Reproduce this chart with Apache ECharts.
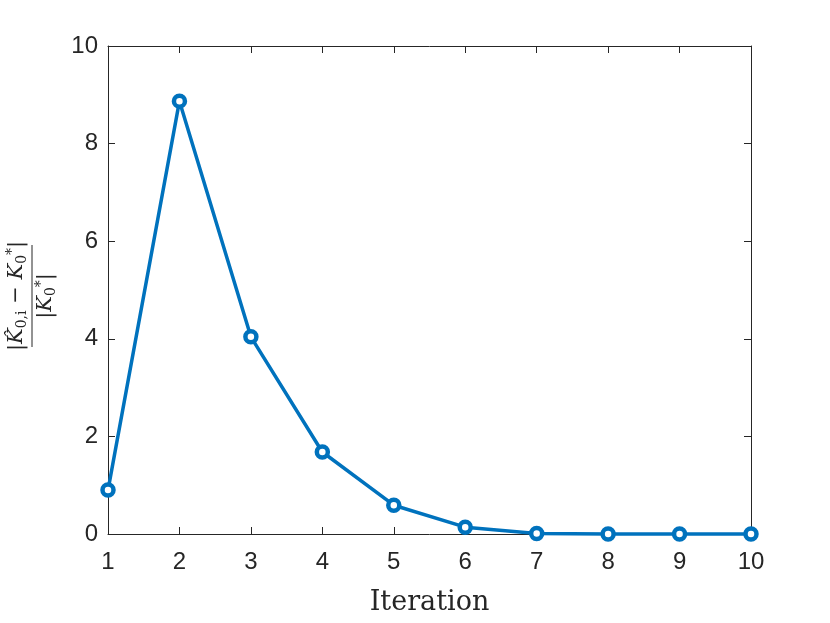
<!DOCTYPE html>
<html><head><meta charset="utf-8">
<script src="https://cdn.jsdelivr.net/npm/echarts@6/dist/echarts.min.js"></script>
<style>html,body{margin:0;padding:0;background:#fff}#c{width:830px;height:623px}</style>
</head><body><div id="c"></div>
<script>
const iterations = [1, 2, 3, 4, 5, 6, 7, 8, 9, 10];
const errors = [0.90, 8.87, 4.04, 1.68, 0.59, 0.14, 0.01, 0.0, 0.0, 0.0];
const xTicks = [1, 2, 3, 4, 5, 6, 7, 8, 9, 10];
const yTicks = [0, 2, 4, 6, 8, 10];
const xLabel = 'Iteration';

const axisColor = '#262626';
const chart = echarts.init(document.getElementById('c'));
const tickFont = {color: axisColor, fontSize: 24, fontFamily: 'Liberation Sans, Arial, sans-serif'};
const serif = 'DejaVu Serif, Liberation Serif, serif';
const common = {
  axisLine: {show: true, onZero: false, lineStyle: {color: axisColor, width: 1}},
  axisTick: {show: true, inside: true, length: 7, lineStyle: {color: axisColor, width: 1}},
  splitLine: {show: false}
};
chart.setOption({
  animation: false,
  grid: {left: 108, right: 79, top: 46, bottom: 89},
  xAxis: [
    Object.assign({type: 'value', min: xTicks[0], max: xTicks[xTicks.length-1], interval: 1,
      axisLabel: Object.assign({margin: 16}, tickFont),
      name: xLabel, nameLocation: 'middle', nameGap: 55,
      nameTextStyle: {fontFamily: serif, fontSize: 27, color: axisColor}}, common),
    Object.assign({type: 'value', position: 'top', min: xTicks[0], max: xTicks[xTicks.length-1], interval: 1,
      axisLabel: {show: false}}, common)
  ],
  yAxis: [
    Object.assign({type: 'value', min: yTicks[0], max: yTicks[yTicks.length-1], interval: 2,
      axisLabel: Object.assign({margin: 10}, tickFont)}, common),
    Object.assign({type: 'value', position: 'right', min: yTicks[0], max: yTicks[yTicks.length-1], interval: 2,
      axisLabel: {show: false}}, common)
  ],
  graphic: [{
    type: 'group', x: 32, y: 296, rotation: Math.PI / 2,
    children: [
      {type: 'text', x: 0, y: -3, style: {
        text: '|{k|K̂}{s|0,i}{o| − }{k|K}{s|0}{sup|*}|',
        align: 'center', verticalAlign: 'bottom', fill: axisColor,
        font: '21px ' + serif,
        rich: {
          k: {fontFamily: serif, fontStyle: 'italic', fontSize: 21, fill: axisColor},
          s: {fontFamily: serif, fontSize: 14, padding: [10,0,0,0], fill: axisColor},
          sup: {fontFamily: serif, fontSize: 14, padding: [0,0,10,0], fill: axisColor},
          o: {fontFamily: serif, fontSize: 21, fill: axisColor}
        }
      }},
      {type: 'line', shape: {x1: -51, y1: 0, x2: 51, y2: 0}, style: {stroke: axisColor, lineWidth: 1}},
      {type: 'text', x: 0, y: 2, style: {
        text: '|{k|K}{s|0}{sup|*}|',
        align: 'center', verticalAlign: 'top', fill: axisColor,
        font: '21px ' + serif,
        rich: {
          k: {fontFamily: serif, fontStyle: 'italic', fontSize: 21, fill: axisColor},
          s: {fontFamily: serif, fontSize: 14, padding: [10,0,0,0], fill: axisColor},
          sup: {fontFamily: serif, fontSize: 14, padding: [0,0,10,0], fill: axisColor}
        }
      }}
    ]
  }],
  series: [{
    type: 'line',
    data: iterations.map((x, i) => [x, errors[i]]),
    symbol: 'circle', symbolSize: 11,
    lineStyle: {color: '#0072BD', width: 3.5},
    itemStyle: {color: '#ffffff', borderColor: '#0072BD', borderWidth: 4.5},
    clip: false
  }]
});
</script></body></html>
